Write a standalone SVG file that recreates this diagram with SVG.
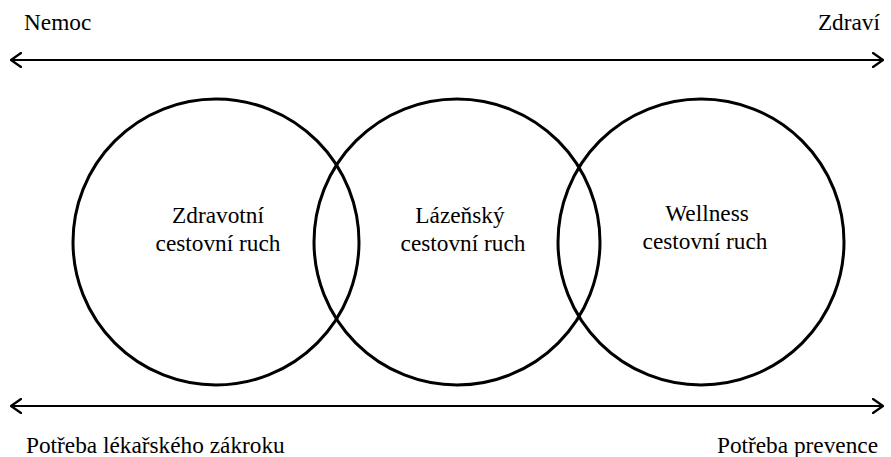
<svg xmlns="http://www.w3.org/2000/svg" width="891" height="457" viewBox="0 0 891 457">
<defs>
<marker id="ah" viewBox="0 0 12 16" refX="11" refY="8" markerWidth="12" markerHeight="16" markerUnits="userSpaceOnUse" orient="auto-start-reverse">
<polyline points="1,1 11,8 1,15" fill="none" stroke="#000" stroke-width="2.2" stroke-linecap="round" stroke-linejoin="round"/>
</marker>
</defs>
<rect width="891" height="457" fill="#fff"/>
<g id="connectors" stroke="#000" stroke-width="2.2" fill="none">
<line x1="11" y1="60" x2="883" y2="60" marker-start="url(#ah)" marker-end="url(#ah)"/>
<line x1="11" y1="406" x2="883" y2="406" marker-start="url(#ah)" marker-end="url(#ah)"/>
</g>
<g id="zdravotni">
<circle cx="216" cy="242" r="143" fill="none" stroke="#000" stroke-width="3"/>
<text font-family="Liberation Serif" font-size="23.3" x="218" y="223" text-anchor="middle">Zdravotní</text>
<text font-family="Liberation Serif" font-size="23.3" x="218" y="251" text-anchor="middle">cestovní ruch</text>
</g>
<g id="lazensky">
<circle cx="457" cy="242" r="143" fill="none" stroke="#000" stroke-width="3"/>
<text font-family="Liberation Serif" font-size="23.3" x="460" y="223" text-anchor="middle">Lázeňský</text>
<text font-family="Liberation Serif" font-size="23.3" x="463" y="251" text-anchor="middle">cestovní ruch</text>
</g>
<g id="wellness">
<circle cx="701" cy="242" r="143" fill="none" stroke="#000" stroke-width="3"/>
<text font-family="Liberation Serif" font-size="23.3" x="707" y="221" text-anchor="middle">Wellness</text>
<text font-family="Liberation Serif" font-size="23.3" x="705" y="249" text-anchor="middle">cestovní ruch</text>
</g>
<g id="labels">
<text font-family="Liberation Serif" font-size="23.3" x="24" y="30">Nemoc</text>
<text font-family="Liberation Serif" font-size="23.3" x="880" y="30" text-anchor="end">Zdraví</text>
<text font-family="Liberation Serif" font-size="23.3" x="26" y="453">Potřeba lékařského zákroku</text>
<text font-family="Liberation Serif" font-size="23.3" x="878" y="453" text-anchor="end">Potřeba prevence</text>
</g>
</svg>
